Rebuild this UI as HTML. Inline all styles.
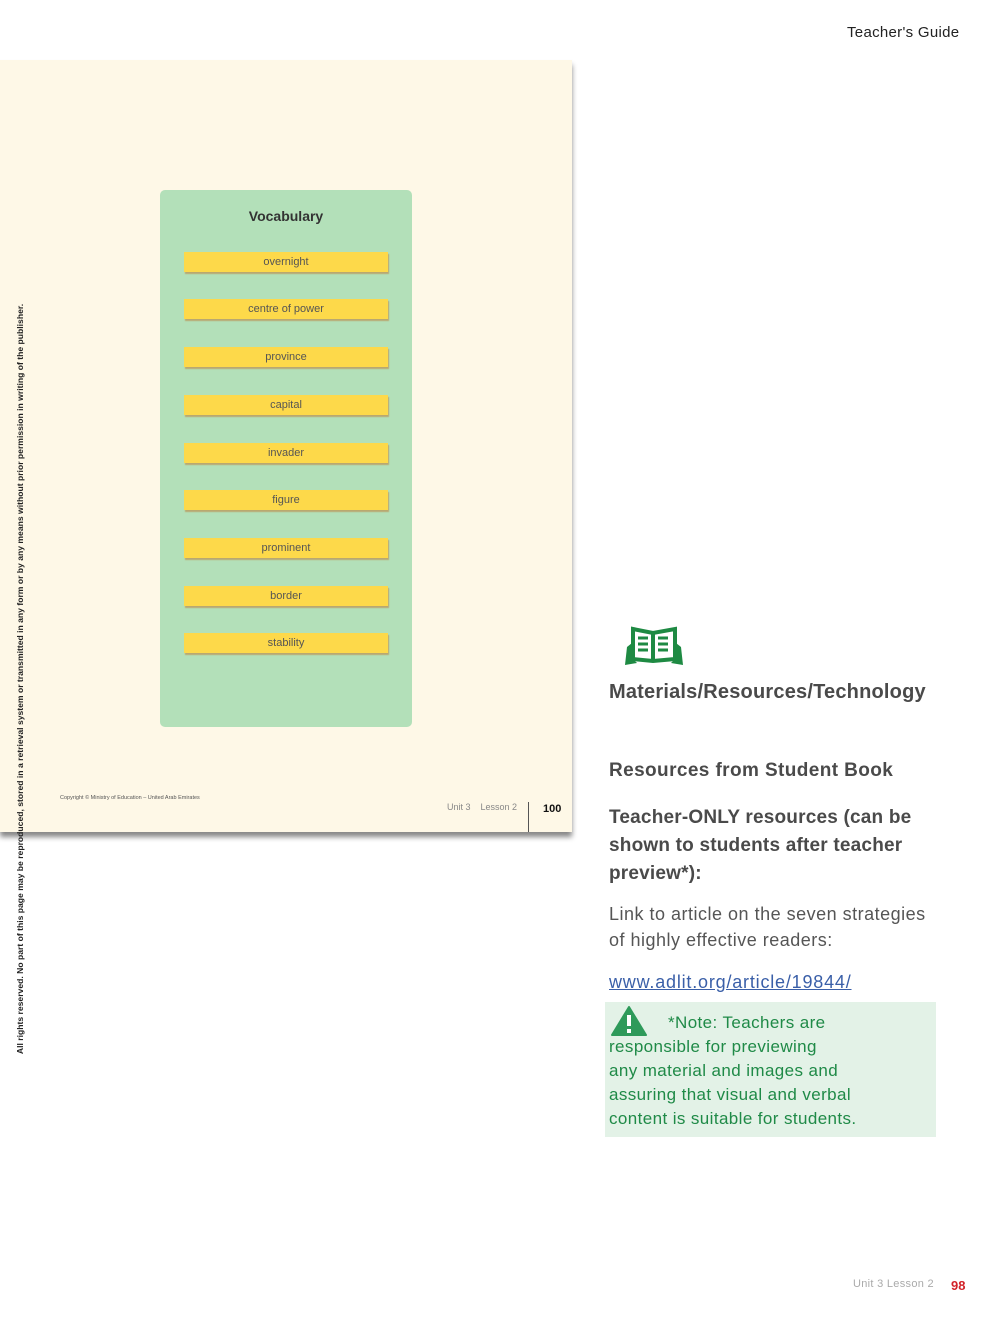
<!DOCTYPE html>
<html><head><meta charset="utf-8"><style>
body{margin:0;width:992px;height:1323px;position:relative;background:#fff;font-family:"Liberation Sans",sans-serif;overflow:hidden}
.a{position:absolute;white-space:nowrap}
.bar{position:absolute;left:184px;width:204px;height:20px;background:#fdd94a;box-shadow:1px 2px 1px #b9a870;font-size:11px;color:#555;text-align:center;line-height:20px}
.g{color:#4a4a4a;font-size:19px;font-weight:bold}
</style></head><body>
<div class="a" style="left:847px;top:24px;font-size:15px;color:#222;letter-spacing:0.3px">Teacher's Guide</div>
<div class="a" style="left:0;top:60px;width:572px;height:772px;background:#fef8e7;box-shadow:0 5px 5px #888"></div>
<div class="a" style="left:160px;top:190px;width:252px;height:537px;background:#b3e0b9;border-radius:5px"></div>
<div class="a" style="left:160px;top:208px;width:252px;text-align:center;font-weight:bold;font-size:14px;color:#333">Vocabulary</div>
<div class="bar" style="top:252px">overnight</div>
<div class="bar" style="top:299px">centre of power</div>
<div class="bar" style="top:347px">province</div>
<div class="bar" style="top:395px">capital</div>
<div class="bar" style="top:443px">invader</div>
<div class="bar" style="top:490px">figure</div>
<div class="bar" style="top:538px">prominent</div>
<div class="bar" style="top:586px">border</div>
<div class="bar" style="top:633px">stability</div>
<div class="a" style="left:60px;top:795px;font-size:5.5px;color:#555">Copyright © Ministry of Education – United Arab Emirates</div>
<div class="a" style="left:447px;top:802px;font-size:9px;color:#888">Unit 3 &nbsp;&nbsp; Lesson 2</div>
<div class="a" style="left:528px;top:802px;width:1px;height:30px;background:#555"></div>
<div class="a" style="left:543px;top:803px;font-size:11px;font-weight:bold;color:#111">100</div>
<div class="a" style="left:20px;top:679px;font-size:8.6px;font-weight:bold;color:#222;transform:translate(-50%,-50%) rotate(-90deg)">All rights reserved. No part of this page may be reproduced, stored in a retrieval system or transmitted in any form or by any means without prior permission in writing of the publisher.</div>
<svg class="a" style="left:623px;top:625px" width="62" height="42" viewBox="0 0 62 42"><g fill="none" stroke="#1e8a43" stroke-width="4"><path d="M10 4 L30 8 L52 4 L52 34 L30 36 L10 34 Z"/><path d="M30 8 V36"/><path d="M15 13h10M15 19h10M15 25h10M35 13h10M35 19h10M35 25h10" stroke-width="3"/></g><path d="M2 40 L4 22 L9 18 L10 34 L14 38 Z M60 40 L58 22 L53 18 L52 34 L48 38 Z" fill="#1e8a43"/></svg>
<div class="a g" style="left:609px;top:681px;font-size:20px;letter-spacing:0.2px">Materials/Resources/Technology</div>
<div class="a g" style="left:609px;top:760px;letter-spacing:0.4px">Resources from Student Book</div>
<div class="a g" style="left:609px;top:804px;line-height:28px;letter-spacing:0.2px">Teacher-ONLY resources (can be<br>shown to students after teacher<br>preview*):</div>
<div class="a" style="left:609px;top:901px;font-size:18px;color:#555;line-height:26px;letter-spacing:0.5px">Link to article on the seven strategies<br>of highly effective readers:</div>
<div class="a" style="left:609px;top:972px;font-size:18px;color:#3a5fa8;text-decoration:underline;letter-spacing:0.8px">www.adlit.org/article/19844/</div>
<div class="a" style="left:605px;top:1002px;width:331px;height:135px;background:#e3f2e7"></div>
<svg class="a" style="left:611px;top:1005px" width="37" height="32"><path d="M18 2 L35 30 L1 30 Z" fill="#2e9a5a" stroke="#2e9a5a" stroke-linejoin="round" stroke-width="2"/><rect x="16" y="10" width="4" height="11" fill="#fff"/><rect x="16" y="24" width="4" height="4" fill="#fff"/></svg>
<div class="a" style="left:609px;top:1011px;font-size:17px;color:#1f8a47;line-height:24px;letter-spacing:0.4px"><span style="padding-left:59px">*Note: Teachers are</span><br>responsible for previewing<br>any material and images and<br>assuring that visual and verbal<br>content is suitable for students.</div>
<div class="a" style="left:853px;top:1278px;font-size:11px;color:#aaa;letter-spacing:0.3px">Unit 3 Lesson 2</div>
<div class="a" style="left:951px;top:1278px;font-size:13px;font-weight:bold;color:#d2232a">98</div>
</body></html>
